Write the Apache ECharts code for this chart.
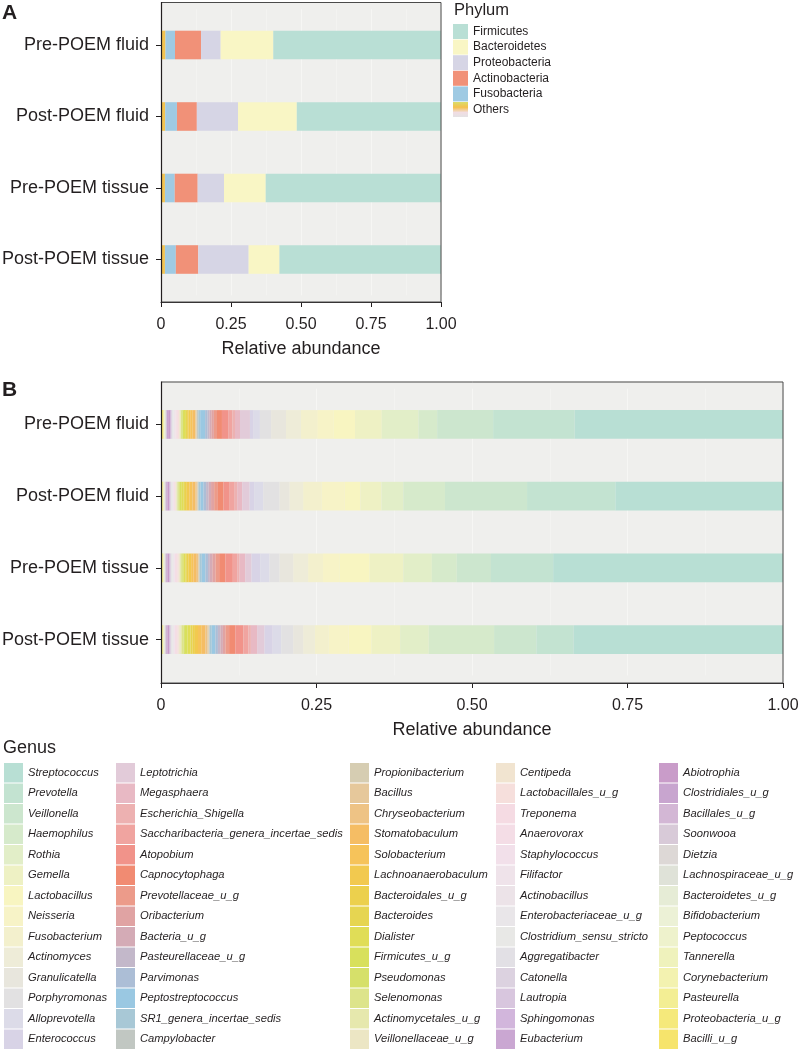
<!DOCTYPE html>
<html><head><meta charset="utf-8">
<script src="https://cdn.jsdelivr.net/npm/echarts@6.0.0/dist/echarts.min.js"></script>
<style>html,body{margin:0;padding:0;background:#fff}#c{width:800px;height:1057px}</style>
</head><body><div id="c"></div><script>
// ---------------- DATA ----------------
const categories = ['Pre-POEM fluid', 'Post-POEM fluid', 'Pre-POEM tissue', 'Post-POEM tissue'];
const xTickLabels = ['0', '0.25', '0.50', '0.75', '1.00'];

const phylumNames = ['Firmicutes', 'Bacteroidetes', 'Proteobacteria', 'Actinobacteria', 'Fusobacteria', 'Others'];
const firmicutes     = [0.599, 0.515, 0.626, 0.577];
const bacteroidetes  = [0.188, 0.210, 0.149, 0.110];
const proteobacteria = [0.070, 0.147, 0.094, 0.180];
const actinobacteria = [0.093, 0.071, 0.082, 0.080];
const fusobacteria   = [0.034, 0.042, 0.035, 0.039];
const others         = [0.016, 0.015, 0.014, 0.014];

const genusNames = [
  'Streptococcus','Prevotella','Veillonella','Haemophilus','Rothia','Gemella','Lactobacillus','Neisseria','Fusobacterium','Actinomyces','Granulicatella','Porphyromonas','Alloprevotella','Enterococcus',
  'Leptotrichia','Megasphaera','Escherichia_Shigella','Saccharibacteria_genera_incertae_sedis','Atopobium','Capnocytophaga','Prevotellaceae_u_g','Oribacterium','Bacteria_u_g','Pasteurellaceae_u_g','Parvimonas','Peptostreptococcus','SR1_genera_incertae_sedis','Campylobacter',
  'Propionibacterium','Bacillus','Chryseobacterium','Stomatobaculum','Solobacterium','Lachnoanaerobaculum','Bacteroidales_u_g','Bacteroides','Dialister','Firmicutes_u_g','Pseudomonas','Selenomonas','Actinomycetales_u_g','Veillonellaceae_u_g',
  'Centipeda','Lactobacillales_u_g','Treponema','Anaerovorax','Staphylococcus','Filifactor','Actinobacillus','Enterobacteriaceae_u_g','Clostridium_sensu_stricto','Aggregatibacter','Catonella','Lautropia','Sphingomonas','Eubacterium',
  'Abiotrophia','Clostridiales_u_g','Bacillales_u_g','Soonwooa','Dietzia','Lachnospiraceae_u_g','Bacteroidetes_u_g','Bifidobacterium','Peptococcus','Tannerella','Corynebacterium','Pasteurella','Proteobacteria_u_g','Bacilli_u_g'
];
const preFluid = [
  0.336,0.131,0.090,0.030,0.059,0.043,0.035,0.026,0.026,0.024,0.024,0.018,0.010,0.006,
  0.016,0.008,0.004,0.007,0.010,0.008,0.005,0.004,0.003,0.003,0.004,0.008,0.003,0.002,
  0.001,0.001,0.001,0.004,0.004,0.003,0.002,0.002,0.003,0.002,0.001,0.002,0.001,0.001,
  0.001,0.002,0.002,0.001,0.001,0.001,0.001,0.001,0.001,0.001,0.001,0.001,0.0005,0.001,
  0.003,0.002,0.001,0.0005,0.0005,0.0005,0.0005,0.0005,0.0005,0.0005,0.0005,0.0005,0.001,0.003
];
const postFluid = [
  0.270,0.142,0.132,0.067,0.035,0.034,0.025,0.037,0.030,0.022,0.016,0.026,0.014,0.008,
  0.012,0.008,0.004,0.008,0.010,0.009,0.006,0.005,0.004,0.004,0.004,0.005,0.003,0.001,
  0.001,0.001,0.002,0.005,0.005,0.004,0.003,0.002,0.004,0.003,0.001,0.002,0.001,0.001,
  0.001,0.001,0.001,0.001,0.001,0.0005,0.0005,0.001,0.0005,0.001,0.0005,0.001,0.0005,0.001,
  0.0025,0.002,0.001,0.0005,0.0005,0.0005,0.0005,0.0005,0.0005,0.0005,0.0005,0.0005,0.0005,0.0025
];
const preTissue = [
  0.370,0.100,0.055,0.040,0.046,0.054,0.048,0.027,0.024,0.024,0.022,0.016,0.015,0.014,
  0.010,0.009,0.004,0.007,0.012,0.010,0.006,0.005,0.004,0.003,0.004,0.006,0.003,0.001,
  0.001,0.001,0.002,0.005,0.004,0.004,0.003,0.002,0.003,0.002,0.001,0.002,0.001,0.001,
  0.001,0.002,0.002,0.002,0.001,0.001,0.001,0.001,0.001,0.001,0.001,0.001,0.0005,0.0005,
  0.003,0.002,0.001,0.0005,0.0005,0.0005,0.0005,0.0005,0.0005,0.0005,0.0005,0.0005,0.0005,0.0025
];
const postTissue = [
  0.337,0.060,0.068,0.105,0.046,0.046,0.037,0.032,0.022,0.019,0.016,0.019,0.014,0.013,
  0.012,0.010,0.004,0.008,0.013,0.010,0.006,0.004,0.004,0.004,0.004,0.006,0.003,0.001,
  0.001,0.002,0.003,0.006,0.006,0.005,0.004,0.003,0.005,0.004,0.002,0.003,0.002,0.002,
  0.001,0.002,0.002,0.002,0.001,0.001,0.001,0.001,0.001,0.001,0.001,0.001,0.0005,0.0005,
  0.003,0.002,0.001,0.0005,0.0005,0.0005,0.0005,0.0005,0.0005,0.0005,0.0005,0.0005,0.0005,0.0025
];

// ---------------- STYLE ----------------
const FONT = '"Liberation Sans", Arial, sans-serif';
const INK = '#231f20';
const PANEL_BG = '#efefed';
const phylumColors = {
  Firmicutes: '#b9dfd5', Bacteroidetes: '#f9f6c5', Proteobacteria: '#d6d5e5',
  Actinobacteria: '#f19178', Fusobacteria: '#9fcae3', Others: '#f2c350'
};
const genusColors = [
  '#b8dfd4','#c3e3d1','#cce6ce','#d6eacb','#e2eec8','#eef1c4','#f8f5c1','#f7f3c7','#f3f0cd','#eeecd8','#e8e6dd','#e2e1e2','#dcdbe8','#d8d3e6',
  '#e2cbd9','#e8b9c4','#edb1b1','#f0a4a0','#f1938a','#f18b72','#ec9b8a','#e0a3a3','#d4abb6','#c3b8ca','#acbed6','#9ac8e2','#a8c8d6','#c1c7c2',
  '#d6cdb2','#e6c89b','#eec385','#f5bd64','#f6c35a','#f2c94f','#ecd04d','#e6d551','#e0dd57','#d8e05c','#d6e06a','#dde48b','#e6e8ad','#ece6c4',
  '#f1e4d0','#f6dfdc','#f5dbe3','#f4dde6','#f2e0ea','#efe3ea','#ece3e8','#e9e6e9','#e8e8e6','#e2e0e5','#dcd2e0','#d8c6de','#d2b6dc','#caa7d2',
  '#c99cc9','#c8a5cf','#d3b7d5','#d8cad8','#ddd8d6','#dfe2d8','#e6ecd6','#ecf1d6','#eef2cc','#eff2bc','#f3f2b0','#f3ee94','#f5e97b','#f6e46c'
];
const othersGradient = new echarts.graphic.LinearGradient(0, 0, 0, 1, [
  {offset: 0, color: '#d9dd6a'}, {offset: 0.35, color: '#f4c14c'},
  {offset: 0.7, color: '#f1dde3'}, {offset: 1, color: '#e4e2e4'}
]);

// layout (pixels)
const A = {left: 161, width: 280, panelTop: 2, panelBottom: 302, barTop: 9.25, barH: 286};
const B = {left: 161, width: 622, panelTop: 381.5, panelBottom: 683, barTop: 388.6, barH: 286.8};

function fmtTick(v) { return xTickLabels[Math.round(v / 0.25)]; }

function makeX(idx, P) {
  return {
    type: 'value', gridIndex: idx, min: 0, max: 1, interval: 0.25,
    offset: P.panelBottom - (P.barTop + P.barH),
    axisLine: {show: true, lineStyle: {color: INK, width: 1}},
    axisTick: {show: true, length: 5, lineStyle: {color: INK}},
    axisLabel: {formatter: fmtTick, fontSize: 16, color: INK, fontFamily: FONT, margin: 15},
    splitLine: {show: true, lineStyle: {color: '#f6f6f4', width: 1}},
    minorTick: {show: false, splitNumber: 2},
    minorSplitLine: {show: true, lineStyle: {color: '#f3f3f1', width: 1}},
    name: 'Relative abundance', nameLocation: 'middle', nameGap: 38,
    nameTextStyle: {fontSize: 18, color: INK, fontFamily: FONT}
  };
}
function makeY(idx) {
  return {
    type: 'category', gridIndex: idx, data: categories, inverse: true,
    axisLine: {show: false},
    axisTick: {show: true, length: 5, alignWithLabel: true, lineStyle: {color: INK}},
    axisLabel: {fontSize: 18, color: INK, fontFamily: FONT, margin: 12},
    splitLine: {show: false}
  };
}

const series = [];
const phylumData = {Firmicutes: firmicutes, Bacteroidetes: bacteroidetes, Proteobacteria: proteobacteria,
  Actinobacteria: actinobacteria, Fusobacteria: fusobacteria, Others: others};
for (let i = phylumNames.length - 1; i >= 0; i--) {
  const n = phylumNames[i];
  series.push({type: 'bar', name: n, stack: 'phylum', xAxisIndex: 0, yAxisIndex: 0,
    barWidth: '40%', data: phylumData[n], itemStyle: {color: phylumColors[n]},
    emphasis: {disabled: true}, z: 2});
}
for (let i = genusNames.length - 1; i >= 0; i--) {
  series.push({type: 'bar', name: genusNames[i], stack: 'genus', xAxisIndex: 1, yAxisIndex: 1,
    barWidth: '40%', data: [preFluid[i], postFluid[i], preTissue[i], postTissue[i]],
    itemStyle: {color: genusColors[i]}, emphasis: {disabled: true}, z: 2});
}

const genusLegendX = [4, 116, 350, 496, 659];
const legends = [{
  orient: 'vertical', left: 453, top: 24, padding: 0, itemWidth: 15, itemHeight: 15, itemGap: 0.6,
  icon: 'rect', selectedMode: false,
  textStyle: {fontSize: 12, color: INK, fontFamily: FONT},
  data: phylumNames.map(n => n === 'Others' ? {name: n, itemStyle: {color: othersGradient}} : {name: n})
}];
for (let c = 0; c < 5; c++) {
  legends.push({
    orient: 'vertical', left: genusLegendX[c], top: 763, padding: 0, itemWidth: 19, itemHeight: 19.5, itemGap: 1,
    icon: 'rect', selectedMode: false,
    textStyle: {fontSize: 11.2, fontStyle: 'italic', color: INK, fontFamily: FONT},
    data: genusNames.slice(c * 14, c * 14 + 14)
  });
}

function panelGraphics(P) {
  return [
    {type: 'rect', z: -10, silent: true, shape: {x: P.left, y: P.panelTop, width: P.width, height: P.panelBottom - P.panelTop}, style: {fill: PANEL_BG}},
    {type: 'rect', z: 100, silent: true, shape: {x: P.left + 0.5, y: P.panelTop + 0.5, width: P.width - 0.5, height: P.panelBottom - P.panelTop - 0.5}, style: {fill: null, stroke: '#4a4a4a', lineWidth: 1}},
    {type: 'line', z: 101, silent: true, shape: {x1: P.left + 0.5, y1: P.panelTop, x2: P.left + 0.5, y2: P.panelBottom + 0.5}, style: {stroke: INK, lineWidth: 1.2}}
  ];
}

const chart = echarts.init(document.getElementById('c'), null, {renderer: 'canvas'});
chart.setOption({
  animation: false,
  backgroundColor: '#ffffff',
  textStyle: {fontFamily: FONT},
  title: [
    {text: 'A', left: 2, top: 3, padding: 0, textStyle: {fontSize: 21, fontWeight: 'bold', color: INK, fontFamily: FONT}},
    {text: 'B', left: 2, top: 380, padding: 0, textStyle: {fontSize: 21, fontWeight: 'bold', color: INK, fontFamily: FONT}},
    {text: 'Phylum', left: 454, top: 2, padding: 0, textStyle: {fontSize: 16.5, fontWeight: 'normal', color: INK, fontFamily: FONT}},
    {text: 'Genus', left: 3, top: 739, padding: 0, textStyle: {fontSize: 18, fontWeight: 'normal', color: INK, fontFamily: FONT}}
  ],
  grid: [
    {left: A.left, top: A.barTop, width: A.width, height: A.barH, outerBoundsMode: 'none', containLabel: false},
    {left: B.left, top: B.barTop, width: B.width, height: B.barH, outerBoundsMode: 'none', containLabel: false}
  ],
  xAxis: [makeX(0, A), makeX(1, B)],
  yAxis: [makeY(0), makeY(1)],
  legend: legends,
  graphic: {elements: panelGraphics(A).concat(panelGraphics(B))},
  series: series
});
</script></body></html>
